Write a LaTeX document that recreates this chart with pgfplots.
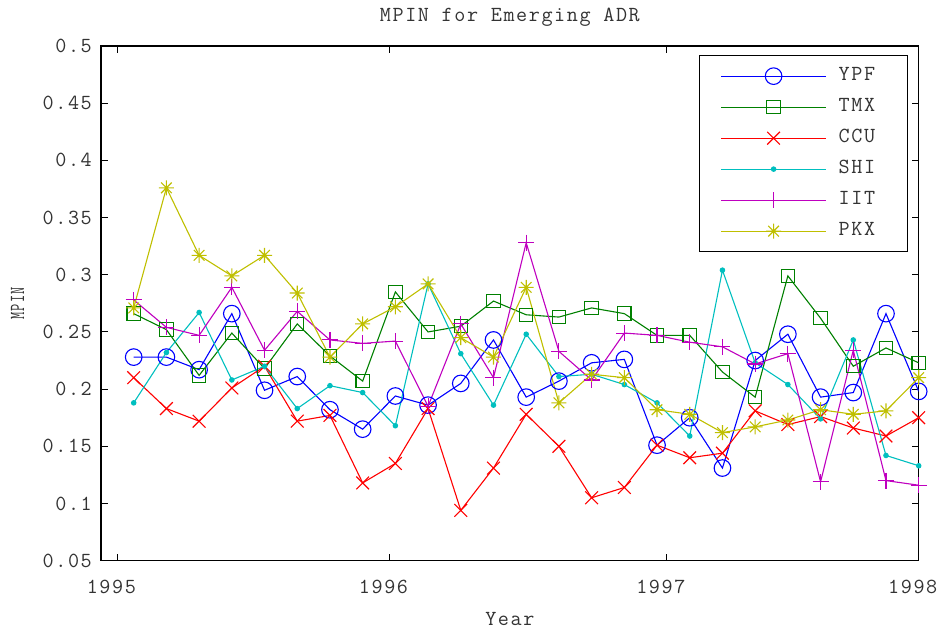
\documentclass[border=0pt]{standalone}
\usepackage{pgfplots}
\pgfplotsset{compat=1.18}
\usepackage{pgfplotstable}
\usepackage{fontspec}
\setmonofont{Latin Modern Mono}[LetterSpace=7.5]
\usepackage{graphicx}

\definecolor{mblue}{rgb}{0,0,1}
\definecolor{mgreen}{rgb}{0,0.5,0}
\definecolor{mred}{rgb}{1,0,0}
\definecolor{mcyan}{rgb}{0,0.75,0.75}
\definecolor{mmag}{rgb}{0.75,0,0.75}
\definecolor{myel}{rgb}{0.75,0.75,0}

\pgfdeclareplotmark{mstar}{%
  \pgfpathmoveto{\pgfpoint{0pt}{\pgfplotmarksize}}\pgfpathlineto{\pgfpoint{0pt}{-\pgfplotmarksize}}%
  \pgfpathmoveto{\pgfpoint{\pgfplotmarksize}{0pt}}\pgfpathlineto{\pgfpoint{-\pgfplotmarksize}{0pt}}%
  \pgfpathmoveto{\pgfpoint{0.707\pgfplotmarksize}{0.707\pgfplotmarksize}}\pgfpathlineto{\pgfpoint{-0.707\pgfplotmarksize}{-0.707\pgfplotmarksize}}%
  \pgfpathmoveto{\pgfpoint{-0.707\pgfplotmarksize}{0.707\pgfplotmarksize}}\pgfpathlineto{\pgfpoint{0.707\pgfplotmarksize}{-0.707\pgfplotmarksize}}%
  \pgfusepathqstroke}

\pgfplotstableread{
i  YPF    TMX    CCU    SHI    IIT    PKX
1  0.228  0.266  0.210  0.188  0.278  0.271
2  0.228  0.252  0.183  0.232  0.254  0.376
3  0.217  0.212  0.172  0.267  0.247  0.317
4  0.266  0.249  0.201  0.208  0.289  0.299
5  0.199  0.218  0.220  0.220  0.234  0.317
6  0.211  0.257  0.172  0.183  0.268  0.284
7  0.182  0.229  0.177  0.203  0.243  0.228
8  0.165  0.207  0.118  0.197  0.240  0.257
9  0.194  0.285  0.135  0.168  0.242  0.272
10 0.186  0.250  0.183  0.292  0.185  0.292
11 0.205  0.255  0.094  0.231  0.257  0.245
12 0.243  0.277  0.131  0.186  0.210  0.228
13 0.193  0.265  0.178  0.248  0.328  0.289
14 0.207  0.263  0.150  0.211  0.233  0.188
15 0.223  0.271  0.105  0.213  0.208  0.213
16 0.226  0.266  0.114  0.204  0.249  0.210
17 0.151  0.247  0.151  0.188  0.247  0.182
18 0.175  0.247  0.140  0.159  0.241  0.178
19 0.131  0.215  0.144  0.304  0.237  0.162
20 0.225  0.193  0.181  0.223  0.222  0.167
21 0.248  0.299  0.169  0.204  0.231  0.173
22 0.193  0.262  0.176  0.174  0.119  0.182
23 0.197  0.220  0.166  0.243  0.234  0.178
24 0.266  0.236  0.159  0.142  0.120  0.181
25 0.198  0.223  0.175  0.133  0.116  0.210
}\datatable

\begin{document}
\begin{tikzpicture}[font=\ttfamily\fontsize{21.5}{25}\selectfont]
\begin{axis}[
  scale only axis, width=817.7pt, height=514.7pt,
  xmin=0, xmax=25, ymin=0.05, ymax=0.5,
  xtick={0.5,8.82,17.3,25}, xticklabels={1995,1996,1997,1998},
  ytick={0.05,0.1,0.15,0.2,0.25,0.3,0.35,0.4,0.45,0.5},
  scaled y ticks=false,
  /pgf/number format/assume math mode=true,
  yticklabel={\pgfmathprintnumber[fixed,precision=2]{\tick}},
  tick align=inside, major tick length=7pt,
  axis line style={line width=1.3pt, black},
  every tick/.style={line width=1pt, black},
  every tick label/.append style={text=black!80},
  xticklabel style={anchor=base, yshift=-32.5pt, xshift=-6pt},
  yticklabel style={anchor=east, inner sep=0pt, xshift=-9pt},
  title={MPIN for Emerging ADR},
  title style={at={(axis description cs:0.5,1.0369)}, anchor=base, text=black!80},
  xlabel={Year},
  xlabel style={at={(axis description cs:0.5,-0.1263)}, anchor=base, text=black!80},
  ylabel={\scalebox{0.65}[1]{MPIN}},
  ylabel style={at={(axis description cs:-0.1021,0.5)}, anchor=center, text=black!80},
  legend image code/.code={\draw[mark repeat=2,mark phase=2] plot coordinates {(0pt,0pt) (52.5pt,0pt) (105pt,0pt)};},
  legend style={at={(axis description cs:1,1)}, anchor=north east, xshift=-10.4pt, yshift=-9pt,
    draw=black, line width=1.3pt, inner xsep=21pt, inner ysep=11pt, row sep=12pt,
    nodes={inner sep=0pt, text height=14pt, text depth=5pt, text width=48pt, text=black!80},
    /tikz/every odd column/.append style={column sep=12pt}},
  legend cell align=left,
  every axis plot/.append style={line width=1.1pt},
]
\addplot[mblue, mark=o, mark size=8.3pt] table[x=i, y=YPF] {\datatable};
\addlegendentry{YPF}
\addplot[mgreen, mark=square, mark size=6.7pt] table[x=i, y=TMX] {\datatable};
\addlegendentry{TMX}
\addplot[mred, mark=x, mark size=9pt] table[x=i, y=CCU] {\datatable};
\addlegendentry{CCU}
\addplot[mcyan, mark=*, mark size=2.2pt, mark options={fill=mcyan}] table[x=i, y=SHI] {\datatable};
\addlegendentry{SHI}
\addplot[mmag, mark=+, mark size=8pt] table[x=i, y=IIT] {\datatable};
\addlegendentry{IIT}
\addplot[myel, mark=mstar, mark size=7.5pt] table[x=i, y=PKX] {\datatable};
\addlegendentry{PKX}
\coordinate (bl) at (rel axis cs:0,0);
\coordinate (tr) at (rel axis cs:1,1);
\end{axis}
\pgfresetboundingbox
\path ([xshift=-101pt,yshift=-69.3pt]bl) rectangle ([xshift=19.3pt,yshift=46pt]tr);
\end{tikzpicture}
\end{document}
